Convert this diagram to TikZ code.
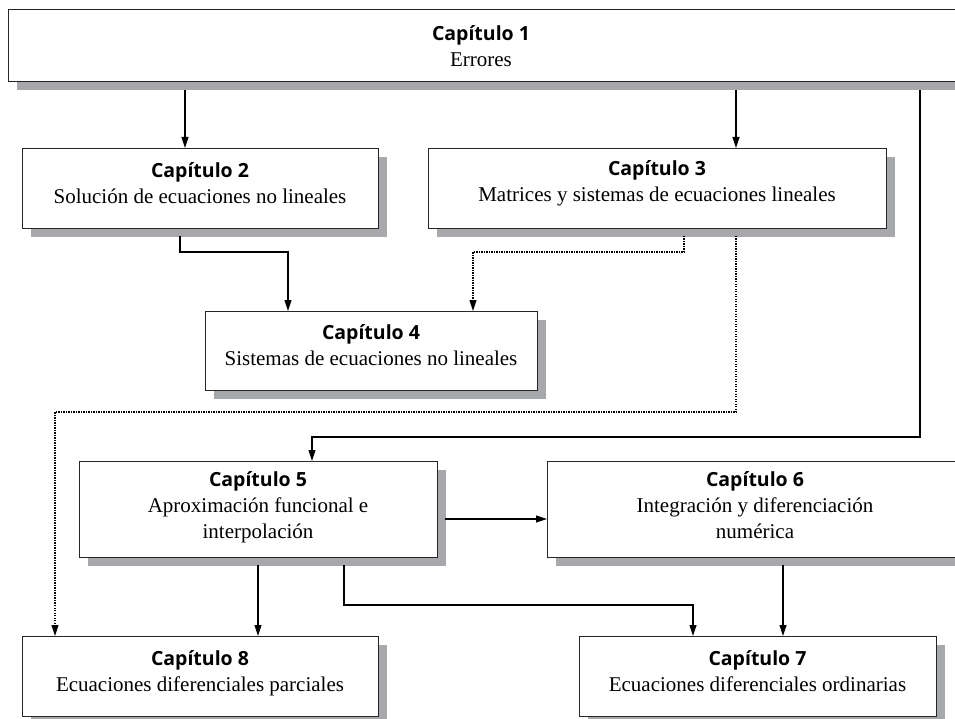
\documentclass[tikz,border=0pt]{standalone}
\usepackage{fontspec}
\setmainfont{Liberation Serif}
\newfontfamily\titlefont{Open Sans}
\usetikzlibrary{arrows.meta,shadows}
\definecolor{shadowgray}{HTML}{A7A8AC}
\definecolor{boxline}{HTML}{262626}
\tikzset{
  box/.style={draw=boxline, line width=1.3pt, fill=white, anchor=north west, inner sep=0pt,
    drop shadow={shadow xshift=8pt, shadow yshift=-8pt, fill=shadowgray, opacity=1}},
  lbl/.style={align=center, inner sep=0pt, font=\fontsize{21}{26}\selectfont},
  conn/.style={line width=1.1pt, draw=black, -{Triangle[length=11pt,width=7pt]}},
  dots/.style={conn, dash pattern=on 1.2pt off 1.3pt},
}
\newcommand{\captit}[1]{{\titlefont\bfseries\fontsize{19.5}{26}\selectfont Capítulo #1}}
\begin{document}
\begin{tikzpicture}[x=1pt,y=-1pt]
\useasboundingbox (0,0) rectangle (955,719);
\clip (0,0) rectangle (955,719);
\fill[white] (0,0) rectangle (955,719);
% boxes
\node[box, minimum width=1000pt, minimum height=72pt] (c1) at (8,9) {};
\node[box, minimum width=356pt, minimum height=80pt] (c2) at (22,148) {};
\node[box, minimum width=458pt, minimum height=80pt] (c3) at (428,148) {};
\node[box, minimum width=332pt, minimum height=79pt] (c4) at (205,311) {};
\node[box, minimum width=358pt, minimum height=96pt] (c5) at (79,461) {};
\node[box, minimum width=416pt, minimum height=96pt] (c6) at (547,461) {};
\node[box, minimum width=357pt, minimum height=80pt] (c7) at (579,636) {};
\node[box, minimum width=356pt, minimum height=80pt] (c8) at (22,636) {};
% labels
\node[lbl] (t1) at (481,46.5) {\captit{1}\\Errores};
\node[lbl] (t2) at (200,183.5) {\captit{2}\\Solución de ecuaciones no lineales};
\node[lbl] (t3) at (657,183.5) {\captit{3}\\Matrices y sistemas de ecuaciones lineales};
\node[lbl] (t4) at (371,345.5) {\captit{4}\\Sistemas de ecuaciones no lineales};
\node[lbl] (t5) at (258,507) {\captit{5}\\Aproximación funcional e\\interpolación};
\node[lbl] (t6) at (755,505) {\captit{6}\\Integración y diferenciación\\numérica};
\node[lbl] (t7) at (757.5,671.5) {\captit{7}\\Ecuaciones diferenciales ordinarias};
\node[lbl] (t8) at (200,673.5) {\captit{8}\\Ecuaciones diferenciales parciales};
% connectors
\coordinate (o1) at (185,90);
\coordinate (o2) at (736,90);
\coordinate (o3) at (920,90);
\draw[conn] (o1) -- (o1 |- c2.north);
\draw[conn] (o2) -- (o2 |- c3.north);
\draw[conn] (o3) -- (920,437) -- (312,437) -- (312,437 |- c5.north);
\coordinate (a2) at (180,236);
\draw[conn] (a2) -- (180,252) -- (288,252) -- (288,252 |- c4.north);
\coordinate (a3) at (684,236);
\draw[dots] (a3) -- (684,252) -- (473,252) -- (473,252 |- c4.north);
\coordinate (b3) at (736,236);
\draw[dots] (b3) -- (736,412) -- (55,412) -- (55,412 |- c8.north);
\coordinate (s5) at (445,519);
\draw[conn] (s5) -- (s5 -| c6.west);
\coordinate (d5) at (258,565);
\draw[conn] (d5) -- (d5 |- c8.north);
\coordinate (e5) at (344,565);
\draw[conn] (e5) -- (344,605) -- (693,605) -- (693,605 |- c7.north);
\coordinate (d6) at (783,565);
\draw[conn] (d6) -- (d6 |- c7.north);
\end{tikzpicture}
\end{document}
